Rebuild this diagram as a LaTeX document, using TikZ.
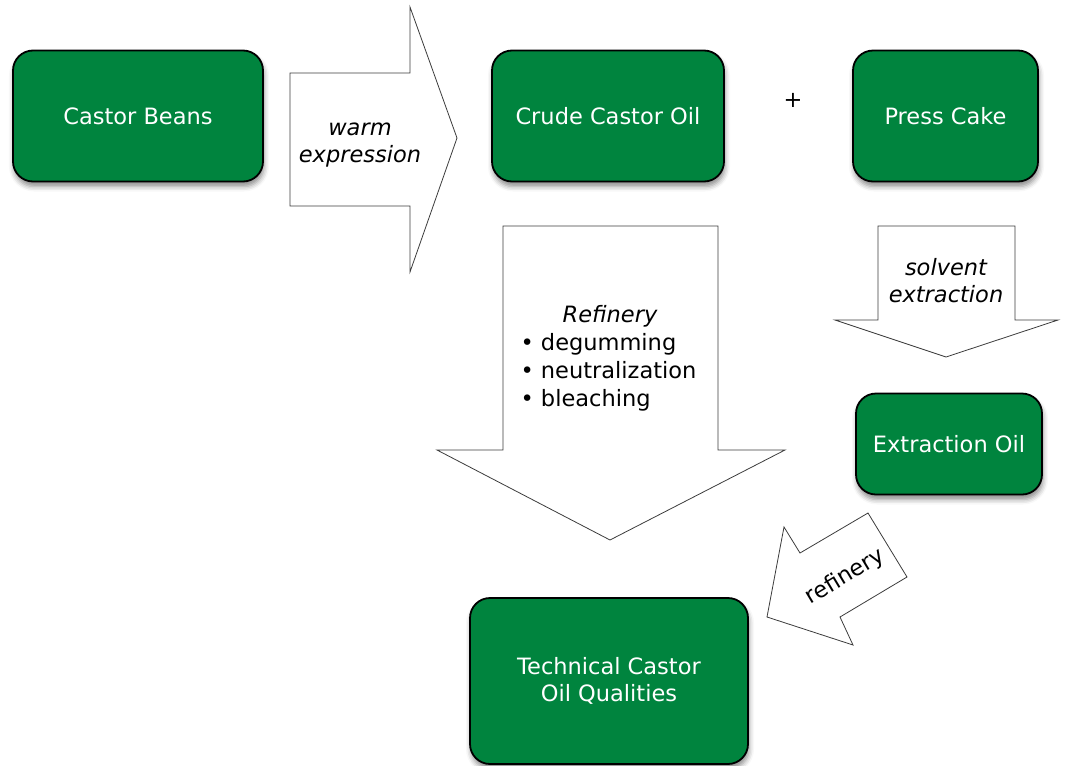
\documentclass[tikz,border=0pt]{standalone}
\usepackage{fontspec}
\setmainfont{DejaVu Sans}
\usetikzlibrary{shadows.blur}
\definecolor{boxgreen}{RGB}{0,132,62}
\definecolor{arrowline}{RGB}{60,60,60}
\begin{document}
\begin{tikzpicture}[x=1pt,y=-1pt,
  basefont/.style={font=\fontsize{22.5}{27}\selectfont},
  greenbox/.style={basefont, draw=black, line width=1.8pt, fill=boxgreen,
    rounded corners=20pt, text=white, align=center, inner sep=0pt,
    blur shadow={shadow xshift=1pt, shadow yshift=-5pt, shadow blur radius=5pt, shadow opacity=45}},
  blockarrow/.style={draw=arrowline, line width=0.8pt, fill=white, line join=miter},
  itlabel/.style={font=\fontsize{22.5}{27}\selectfont\itshape, align=center, inner sep=0pt},
  uplabel/.style={font=\fontsize{22.5}{28}\selectfont, align=left, inner sep=0pt}]
\useasboundingbox (0,0) rectangle (1066,766);

% block arrows
\draw[blockarrow] (290,73) -- (410,73) -- (410,7) -- (457,138) -- (410,272) -- (410,206) -- (290,206) -- cycle;
\draw[blockarrow] (503,226) -- (718,226) -- (718,450) -- (785,450) -- (610,540) -- (437,450) -- (503,450) -- cycle;
\draw[blockarrow] (878,226) -- (1015,226) -- (1015,320) -- (1058,320) -- (946,357) -- (835,320) -- (878,320) -- cycle;
\draw[blockarrow] (767,617) -- (784,527) -- (800,553) -- (868,513) -- (907,577) -- (840,617) -- (853,645) -- cycle;

% green boxes
\node[greenbox, minimum width=250pt, minimum height=131pt] (beans) at (138,116) {Castor Beans};
\node[greenbox, minimum width=232pt, minimum height=131pt] (crude) at (608,116) {Crude Castor Oil};
\node[greenbox, minimum width=185pt, minimum height=131pt] (cake) at (945.5,116) {Press Cake};
\node[greenbox, minimum width=186pt, minimum height=101pt] (extr) at (949,444) {Extraction Oil};
\node[greenbox, minimum width=278pt, minimum height=166pt] (tech) at (609,681) {Technical Castor\\ Oil Qualities};

% labels
\node[basefont, inner sep=0pt] (plus) at (793,100) {+};
\node[itlabel] (warm) at (360,145) {warm\\expression};
\node[itlabel] (refin) at (610,316) {Refinery};
\node[uplabel, anchor=west] (steps) at (520.5,372) {\textbullet\hspace{7pt}degumming\\\textbullet\hspace{7pt}neutralization\\\textbullet\hspace{7pt}bleaching};
\node[itlabel] (solv) at (946,281) {solvent\\extraction};
\node[basefont, inner sep=0pt, rotate=31] (ref2) at (845,577) {refinery};
\end{tikzpicture}
\end{document}
